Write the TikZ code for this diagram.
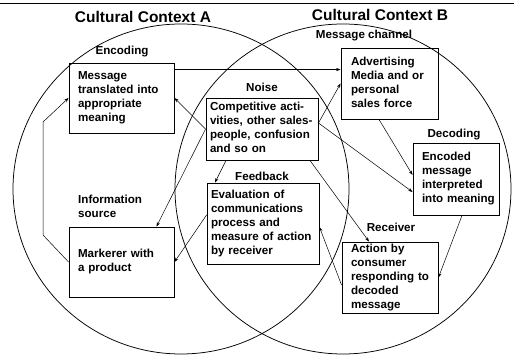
\documentclass[tikz,border=0pt]{standalone}
\usepackage{fontspec}
\setmainfont{Liberation Sans}
\usetikzlibrary{arrows.meta}
\begin{document}
\begin{tikzpicture}[x=1pt,y=-1pt,
  box/.style={draw, line width=0.9pt, align=left, inner ysep=0pt,
    font=\bfseries\fontsize{11.6}{14}\selectfont},
  lbl/.style={inner sep=0pt, font=\bfseries\fontsize{11.6}{14}\selectfont},
  ttl/.style={inner sep=0pt, font=\bfseries\fontsize{15.5}{18}\selectfont},
  arr/.style={-{Stealth[length=4.5pt,width=3.2pt]}, line width=0.5pt},
  ring/.style={line width=0.75pt}]
\useasboundingbox (0,0) rectangle (514,355);
\draw[line width=0.8pt] (0,3) -- (514,3);
% cultural contexts
\draw[ring] (181,189) ellipse [x radius=168pt, y radius=165pt];
\draw[ring] (343,189) ellipse [x radius=168pt, y radius=165pt];
\node[ttl] (ta) at (143,17) {Cultural Context A};
\node[ttl] (tb) at (380,15) {Cultural Context B};
% boxes
\node[box, minimum width=105pt, minimum height=70pt, text width=87pt, inner xsep=9pt] (enc) at (121.5,98)
  {\begin{tabular}{@{}l@{}}Message\\translated into\\appropriate\\meaning\end{tabular}};
\node[box, minimum width=112pt, minimum height=62pt, text width=104pt, inner xsep=4pt] (noise) at (262,129)
  {\begin{tabular}{@{}l@{}}Competitive acti-\\vities, other sales-\\people, confusion\\and so on\end{tabular}};
\node[box, minimum width=97pt, minimum height=71pt, text width=77pt, inner xsep=10pt] (chan) at (389.5,83.5)
  {\begin{tabular}{@{}l@{}}Advertising\\Media and or\\personal\\sales force\end{tabular}};
\node[box, minimum width=86pt, minimum height=72pt, text width=68pt, inner xsep=9pt] (dec) at (456,179)
  {\begin{tabular}{@{}l@{}}Encoded\\message\\interpreted\\into meaning\end{tabular}};
\node[box, minimum width=112pt, minimum height=81pt, text width=104pt, inner xsep=4pt] (fb) at (263,223.5)
  {\begin{tabular}{@{}l@{}}Evaluation of\\communications\\process and\\measure of action\\by receiver\end{tabular}};
\node[box, minimum width=96pt, minimum height=71pt, text width=78pt, inner xsep=9pt] (rec) at (390,277.5)
  {\begin{tabular}{@{}l@{}}Action by\\consumer\\responding to\\decoded\\message\end{tabular}};
\node[box, minimum width=105pt, minimum height=70pt, text width=87pt, inner xsep=9pt] (src) at (121.5,262)
  {\begin{tabular}{@{}l@{}}Markerer with\\a product\end{tabular}};
% labels
\node[lbl] (lenc) at (122,52) {Encoding};
\node[lbl] (lnoise) at (262,87) {Noise};
\node[lbl] (lchan) at (364,36) {Message channel};
\node[lbl] (ldec) at (454,135) {Decoding};
\node[lbl] (lfb) at (262,176) {Feedback};
\node[lbl] (lrec) at (391,227) {Receiver};
\node[lbl, anchor=west, align=left] (lsrc) at (78,206) {Information\\source};
% connectors
\coordinate (b1) at (43,235);
\coordinate (b2) at (43,122);
\draw[arr] ([yshift=-7pt]enc.north east) -- ([yshift=-7pt]enc.north east -| chan.west);
\draw[arr] (noise.west) -- (enc.east);
\draw[arr] (noise.west) -- ([xshift=35pt]src.north);
\draw[arr] ([yshift=6pt]noise.east) -- (chan.west);
\draw[arr] ([yshift=6pt]noise.east) -- ([yshift=-13pt]dec.west);
\draw[arr] ([xshift=-10.5pt]chan.south) -- ([yshift=4pt]dec.west);
\draw[arr] ([xshift=6pt]dec.south) -- (rec.east);
\draw[arr] ([xshift=48pt]noise.south) -- ([xshift=-21pt]rec.north);
\draw[arr] ([yshift=-7.5pt]rec.west) -- ([yshift=-3.5pt]fb.east);
\draw[arr] ([xshift=-36pt]noise.south) -- ([xshift=-48pt]fb.north);
\draw[arr] ([yshift=8.5pt]fb.west) -- (src.east);
\draw[arr] (src.west) -- (b1) -- (b2) -- (enc.west);
\end{tikzpicture}
\end{document}
